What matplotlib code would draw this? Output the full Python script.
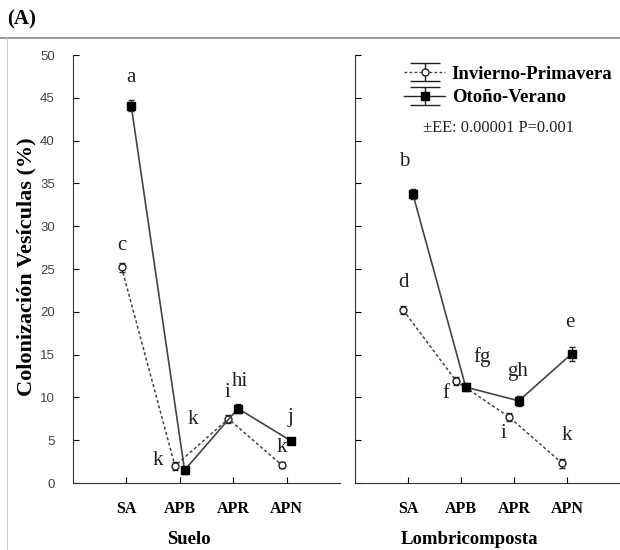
import matplotlib.pyplot as plt
from matplotlib.lines import Line2D
from matplotlib.path import Path
from matplotlib.legend_handler import HandlerTuple

categories = ["SA", "APB", "APR", "APN"]

# Suelo
suelo_ip = [25.2, 2.0, 7.5, 2.1]
suelo_ip_err = [0.5, 0.5, 0.5, 0.4]
suelo_ov = [44.1, 1.5, 8.7, 4.9]
suelo_ov_err = [0.6, 0.4, 0.5, 0.4]
suelo_letters_ip = ["c", "k", "i", "k"]
suelo_letters_ov = ["a", "k", "hi", "j"]

# Lombricomposta
lombri_ip = [20.2, 11.9, 7.7, 2.3]
lombri_ip_err = [0.5, 0.5, 0.5, 0.5]
lombri_ov = [33.8, 11.2, 9.6, 15.1]
lombri_ov_err = [0.6, 0.5, 0.6, 0.8]
lombri_letters_ip = ["d", "f", "i", "k"]
lombri_letters_ov = ["b", "fg", "gh", "e"]

serif = "Liberation Serif"

fig = plt.figure(figsize=(6.2, 5.5), dpi=100)
ax1 = fig.add_axes([0.1177, 0.1218, 0.4306, 0.7782])
ax2 = fig.add_axes([0.5726, 0.1218, 0.4274, 0.7782])

off = 0.09
x = list(range(len(categories)))


def draw_panel(ax, ip, ip_err, ov, ov_err):
    xi = [v - off for v in x]
    xo = [v + off for v in x]
    ax.errorbar(xi, ip, yerr=ip_err, color="#444444", ls=(0, (2, 1.6)), lw=1.1,
                marker="o", mfc="white", mec="#222222", ms=5, capsize=2.5,
                ecolor="#222222", elinewidth=0.8)
    ax.errorbar(xo, ov, yerr=ov_err, color="#444444", ls="-", lw=1.2,
                marker="s", mfc="black", mec="black", ms=6, capsize=2.5,
                ecolor="#222222", elinewidth=0.8)
    ax.set_xlim(-1, 4)
    ax.set_ylim(0, 50)
    ax.set_xticks(x)
    ax.set_xticklabels(categories, fontfamily=serif, fontweight="bold", fontsize=11.5)
    ax.set_yticks(range(0, 51, 5))
    ax.tick_params(direction="in", length=4, width=0.8, pad=13)
    for s in ["top", "right"]:
        ax.spines[s].set_visible(False)
    for s in ["left", "bottom"]:
        ax.spines[s].set_color("#333333")


draw_panel(ax1, suelo_ip, suelo_ip_err, suelo_ov, suelo_ov_err)
draw_panel(ax2, lombri_ip, lombri_ip_err, lombri_ov, lombri_ov_err)

for lab in ax1.get_yticklabels():
    lab.set_fontfamily("Liberation Sans")
    lab.set_fontsize(9.5)
    lab.set_color("#444444")
ax1.tick_params(axis="y", pad=13)
ax2.set_yticklabels([])

ax1.set_ylabel("Colonización Vesículas (%)", fontfamily=serif, fontweight="bold",
               fontsize=16)
ax1.yaxis.set_label_coords(-0.135, 0.505)
ax1.set_xlabel("Suelo", fontfamily=serif, fontweight="bold", fontsize=13.5)
ax2.set_xlabel("Lombricomposta", fontfamily=serif, fontweight="bold", fontsize=13.5)
ax1.xaxis.set_label_coords(0.435, -0.112)
ax2.xaxis.set_label_coords(0.43, -0.112)

# significance letters (x, y in data units)
letter_kw = dict(fontfamily=serif, fontsize=15, ha="center", va="center", color="#222222")
suelo_pos_ip = [(-0.08, 27.8), (0.58, 2.6), (1.9, 10.6), (2.92, 4.2)]
suelo_pos_ov = [(0.08, 47.4), (1.25, 7.4), (2.13, 11.8), (3.08, 7.7)]
lombri_pos_ip = [(-0.08, 23.4), (0.72, 10.4), (1.8, 5.8), (3.0, 5.6)]
lombri_pos_ov = [(-0.08, 37.6), (1.4, 14.7), (2.07, 13.0), (3.05, 18.7)]
for ax, letters, pos in [(ax1, suelo_letters_ip, suelo_pos_ip),
                         (ax1, suelo_letters_ov, suelo_pos_ov),
                         (ax2, lombri_letters_ip, lombri_pos_ip),
                         (ax2, lombri_letters_ov, lombri_pos_ov)]:
    for t, (px, py) in zip(letters, pos):
        ax.text(px, py, t, **letter_kw)

# legend: error-bar style symbol (wide caps above and below)
cap_path = Path([(-1, 0.6), (1, 0.6), (-1, -0.6), (1, -0.6), (0, 0.6), (0, -0.6)],
                [Path.MOVETO, Path.LINETO, Path.MOVETO, Path.LINETO,
                 Path.MOVETO, Path.LINETO])
caps = Line2D([], [], ls="none", marker=cap_path, ms=22, mfc="none",
              mec="#222222", mew=1)
h_ip = Line2D([], [], color="#444444", ls=(0, (2, 1.6)), lw=1, marker="o",
              mfc="white", mec="#222222", ms=5)
h_ov = Line2D([], [], color="#222222", ls="-", lw=1, marker="s", mfc="black",
              mec="black", ms=6)
ax2.legend([(caps, h_ip), (caps, h_ov)], ["Invierno-Primavera", "Otoño-Verano"],
           handler_map={tuple: HandlerTuple(ndivide=1)},
           loc="upper right", bbox_to_anchor=(1.035, 1.015), frameon=False,
           handlelength=2.2, handletextpad=0.35, labelspacing=0.35,
           prop=dict(family=serif, weight="bold", size=13.5))
ax2.text(0.255, 0.83, "±EE: 0.00001 P=0.001", transform=ax2.transAxes,
         fontfamily=serif, fontsize=11.8, color="#222222", va="center")

# panel label and frame lines
fig.text(0.012, 0.965, "(A)", fontfamily=serif, fontweight="bold", fontsize=15,
         va="center", ha="left")
fig.add_artist(Line2D([0.0, 1.0], [0.931, 0.931], color="#888888", lw=1.2))
fig.add_artist(Line2D([0.012, 0.012], [0.0, 0.931], color="#cccccc", lw=0.8))

fig.savefig("out.png", dpi=100)
